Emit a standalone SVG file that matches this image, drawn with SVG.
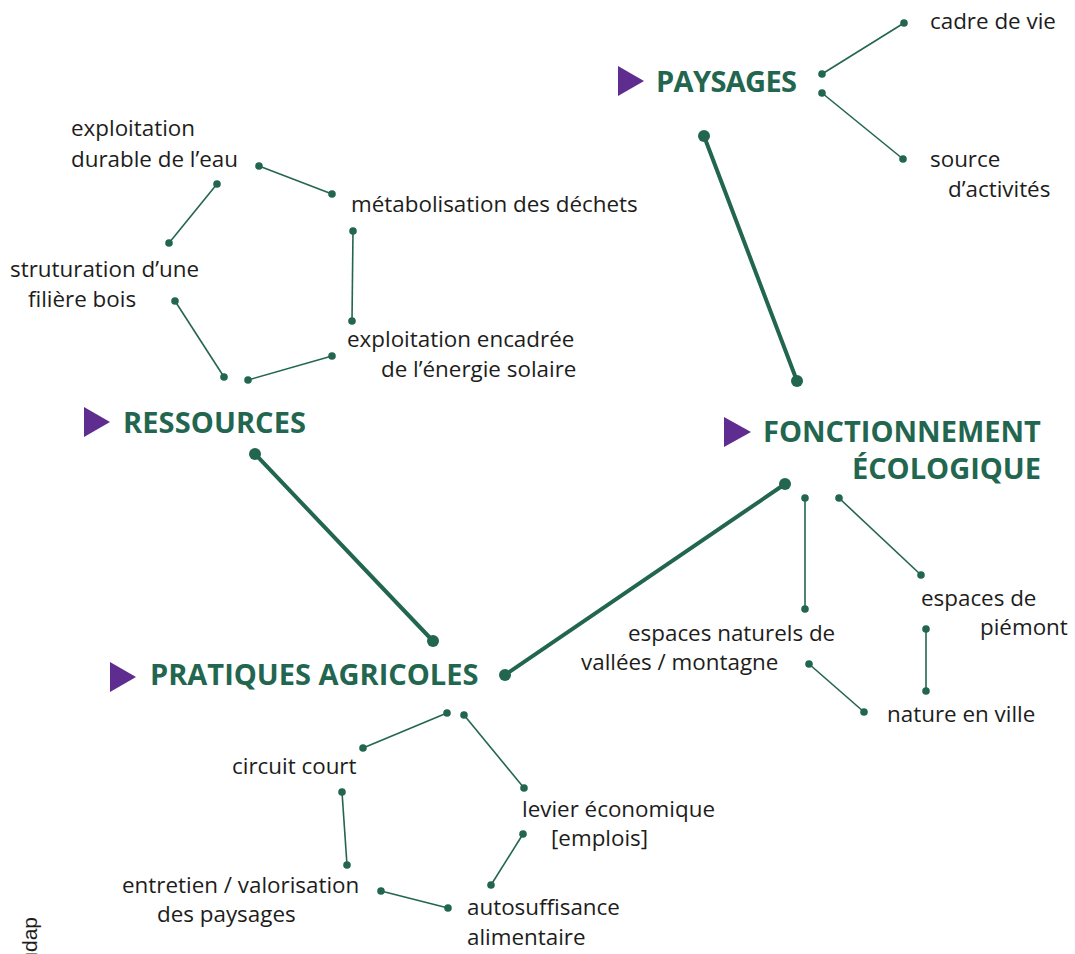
<svg xmlns="http://www.w3.org/2000/svg" width="1075" height="954" viewBox="0 0 1075 954">
<style>
.bg{fill:#ffffff}
.lbl{font-family:"Open Sans","Noto Sans","Liberation Sans",sans-serif;font-size:22.4px;fill:#1d1d1b}
.head{font-family:"Open Sans","Noto Sans","Liberation Sans",sans-serif;font-size:29px;font-weight:700;fill:#23664f}
.tri{fill:#5e2d8f}
.thick{stroke:#23664f;stroke-width:4;fill:none;stroke-linecap:round}
.thin{stroke:#23664f;stroke-width:1.6;fill:none}
.bd{fill:#23664f}
.credit{font-family:"Liberation Sans","Open Sans",sans-serif;font-size:21px;fill:#1d1d1b}
</style>
<rect class="bg" x="0" y="0" width="1075" height="954"/>

<g id="connectors">
  <line class="thick" x1="704" y1="136" x2="797" y2="381"/>
  <circle class="bd" cx="704" cy="136" r="6"/><circle class="bd" cx="797" cy="381" r="6"/>
  <line class="thick" x1="255" y1="454" x2="433" y2="641"/>
  <circle class="bd" cx="255" cy="454" r="6"/><circle class="bd" cx="433" cy="641" r="6"/>
  <line class="thick" x1="505" y1="675" x2="785" y2="484"/>
  <circle class="bd" cx="505" cy="675" r="6"/><circle class="bd" cx="785" cy="484" r="6"/>

  <line class="thin" x1="822" y1="74" x2="904" y2="23"/>
  <circle class="bd" cx="822" cy="74" r="3.8"/><circle class="bd" cx="904" cy="23" r="3.8"/>
  <line class="thin" x1="822" y1="93" x2="903" y2="159"/>
  <circle class="bd" cx="822" cy="93" r="3.8"/><circle class="bd" cx="903" cy="159" r="3.8"/>

  <line class="thin" x1="259" y1="166" x2="332" y2="194"/>
  <circle class="bd" cx="259" cy="166" r="3.8"/><circle class="bd" cx="332" cy="194" r="3.8"/>
  <line class="thin" x1="217" y1="184" x2="169" y2="243"/>
  <circle class="bd" cx="217" cy="184" r="3.8"/><circle class="bd" cx="169" cy="243" r="3.8"/>
  <line class="thin" x1="353" y1="231" x2="352" y2="321"/>
  <circle class="bd" cx="353" cy="231" r="3.8"/><circle class="bd" cx="352" cy="321" r="3.8"/>
  <line class="thin" x1="175" y1="301" x2="224" y2="377"/>
  <circle class="bd" cx="175" cy="301" r="3.8"/><circle class="bd" cx="224" cy="377" r="3.8"/>
  <line class="thin" x1="248" y1="380" x2="332" y2="356"/>
  <circle class="bd" cx="248" cy="380" r="3.8"/><circle class="bd" cx="332" cy="356" r="3.8"/>

  <line class="thin" x1="805" y1="498" x2="805" y2="609"/>
  <circle class="bd" cx="805" cy="498" r="3.8"/><circle class="bd" cx="805" cy="609" r="3.8"/>
  <line class="thin" x1="839" y1="498" x2="921" y2="575"/>
  <circle class="bd" cx="839" cy="498" r="3.8"/><circle class="bd" cx="921" cy="575" r="3.8"/>
  <line class="thin" x1="926" y1="629" x2="926" y2="691"/>
  <circle class="bd" cx="926" cy="629" r="3.8"/><circle class="bd" cx="926" cy="691" r="3.8"/>
  <line class="thin" x1="809" y1="664" x2="864" y2="712"/>
  <circle class="bd" cx="809" cy="664" r="3.8"/><circle class="bd" cx="864" cy="712" r="3.8"/>

  <line class="thin" x1="447" y1="713" x2="363" y2="748"/>
  <circle class="bd" cx="447" cy="713" r="3.8"/><circle class="bd" cx="363" cy="748" r="3.8"/>
  <line class="thin" x1="464" y1="715" x2="524" y2="788"/>
  <circle class="bd" cx="464" cy="715" r="3.8"/><circle class="bd" cx="524" cy="788" r="3.8"/>
  <line class="thin" x1="342" y1="792" x2="347" y2="865"/>
  <circle class="bd" cx="342" cy="792" r="3.8"/><circle class="bd" cx="347" cy="865" r="3.8"/>
  <line class="thin" x1="523" y1="834" x2="491" y2="885"/>
  <circle class="bd" cx="523" cy="834" r="3.8"/><circle class="bd" cx="491" cy="885" r="3.8"/>
  <line class="thin" x1="381" y1="891" x2="448" y2="908"/>
  <circle class="bd" cx="381" cy="891" r="3.8"/><circle class="bd" cx="448" cy="908" r="3.8"/>
</g>

<g id="paysages">
  <polygon class="tri" points="618,66 644,81 618,96"/>
  <text class="head" x="656" y="92" textLength="141">PAYSAGES</text>
</g>
<g id="ressources">
  <polygon class="tri" points="84,407 110,422 84,437"/>
  <text class="head" x="123" y="433" textLength="183">RESSOURCES</text>
</g>
<g id="fonctionnement">
  <polygon class="tri" points="724,417 751,432 724,447"/>
  <text class="head" x="763" y="442">FONCTIONNEMENT</text>
  <text class="head" x="1041" y="479" text-anchor="end">ÉCOLOGIQUE</text>
</g>
<g id="pratiques">
  <polygon class="tri" points="110,662 136,677 110,692"/>
  <text class="head" x="150" y="685">PRATIQUES AGRICOLES</text>
</g>

<g id="cadre-de-vie"><text class="lbl" x="930" y="29">cadre de vie</text></g>
<g id="source-activites">
  <text class="lbl" x="930" y="167">source</text>
  <text class="lbl" x="948" y="197">d’activités</text>
</g>

<g id="eau">
  <text class="lbl" x="71" y="136">exploitation</text>
  <text class="lbl" x="71" y="167">durable de l’eau</text>
</g>
<g id="dechets"><text class="lbl" x="351" y="212">métabolisation des déchets</text></g>
<g id="bois">
  <text class="lbl" x="10" y="277">struturation d’une</text>
  <text class="lbl" x="28" y="307">filière bois</text>
</g>
<g id="solaire">
  <text class="lbl" x="347" y="347">exploitation encadrée</text>
  <text class="lbl" x="381" y="377">de l’énergie solaire</text>
</g>

<g id="piemont">
  <text class="lbl" x="921" y="606">espaces de</text>
  <text class="lbl" x="980" y="635">piémont</text>
</g>
<g id="vallees">
  <text class="lbl" x="628" y="641">espaces naturels de</text>
  <text class="lbl" x="581" y="670">vallées / montagne</text>
</g>
<g id="nature-en-ville"><text class="lbl" x="887" y="722">nature en ville</text></g>

<g id="circuit-court"><text class="lbl" x="232" y="774">circuit court</text></g>
<g id="levier">
  <text class="lbl" x="522" y="817">levier économique</text>
  <text class="lbl" x="551" y="846">[emplois]</text>
</g>
<g id="entretien">
  <text class="lbl" x="122" y="893">entretien / valorisation</text>
  <text class="lbl" x="157" y="922">des paysages</text>
</g>
<g id="autosuffisance">
  <text class="lbl" x="467" y="915">autosuffisance</text>
  <text class="lbl" x="467" y="945">alimentaire</text>
</g>

<text class="credit" transform="translate(37,917) rotate(-90)" text-anchor="end">audap</text>
</svg>
